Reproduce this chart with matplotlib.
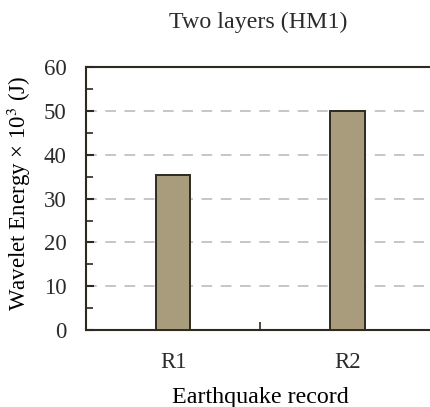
import numpy as np
import matplotlib
matplotlib.use('Agg')
import matplotlib.pyplot as plt
from matplotlib.ticker import MultipleLocator

plt.rcParams['font.family'] = ['Liberation Serif', 'DejaVu Serif']
plt.rcParams['mathtext.fontset'] = 'stix'
plt.rcParams['text.color'] = '#2b2b2b'
plt.rcParams['xtick.labelcolor'] = '#2b2b2b'
plt.rcParams['ytick.labelcolor'] = '#2b2b2b'

# Data
records = ['R1', 'R2']
energy = [35.4, 50.0]   # wavelet energy x 10^3 (J)

dark = '#2e2a20'
fs = 16.5
fig = plt.figure(figsize=(4.30, 4.07), dpi=100)
ax = fig.add_axes([0.2, 0.189, 0.81, 0.646])

x = np.arange(1, len(records) + 1)
ax.bar(x, energy, width=0.2, color='#a89c7c', edgecolor=dark, linewidth=1.4, zorder=3)

ax.set_xlim(0.5, 2.5)
ax.set_ylim(0, 60)
ax.yaxis.set_major_locator(MultipleLocator(10))
ax.yaxis.set_minor_locator(MultipleLocator(5))
for yv in range(10, 60, 10):
    ax.axhline(yv, color='#c6c6c6', linestyle=(0, (5.5, 4.4)), linewidth=1.4, zorder=1)

# category separators on the x axis, labels centred under the bars
ax.set_xticks([1.5])
ax.set_xticklabels([''])
ax.set_xticks(x, minor=True)
ax.set_xticklabels(records, minor=True)
ax.tick_params(axis='x', which='major', direction='in', length=6, width=1.2, color=dark)
ax.tick_params(axis='x', which='minor', length=0, pad=16, labelsize=fs)
ax.tick_params(axis='y', which='major', direction='in', length=6, width=1.5, color=dark,
               labelsize=fs, pad=14)
ax.tick_params(axis='y', which='minor', direction='in', length=5, width=1.2, color=dark)

for side in ['left', 'bottom', 'top']:
    ax.spines[side].set_color(dark)
    ax.spines[side].set_linewidth(1.5)
ax.spines['right'].set_visible(False)

ax.set_xlabel('Earthquake record', fontsize=17.3, labelpad=10)
ax.set_ylabel('Wavelet Energy × 10$^3$ (J)', fontsize=fs)
ax.yaxis.set_label_coords(-0.152, 0.52)
fig.text(0.6, 0.945, 'Two layers (HM1)', ha='center', va='center', fontsize=17.3)

plt.savefig('out.png', dpi=100)
